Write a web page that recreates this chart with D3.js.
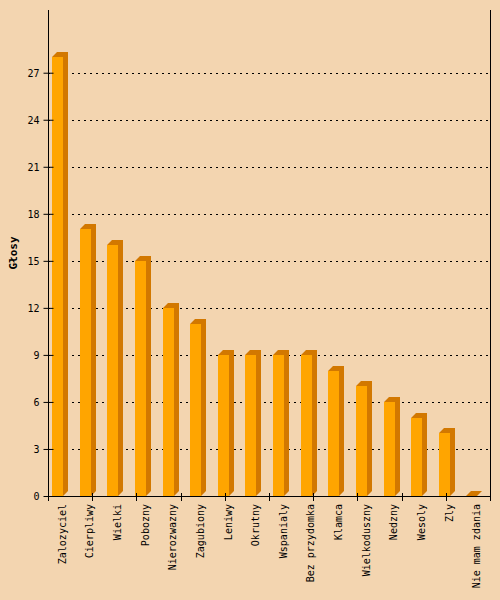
<!DOCTYPE html>
<meta charset="utf-8">
<script src="https://d3js.org/d3.v7.min.js"></script>
<style>
  body { margin: 0; background: #f3d5b0; }
</style>
<div id="chart"></div>
<script>

// data
var names = ["Zalozyciel", "Cierpliwy", "Wielki", "Pobozny", "Nierozwazny", "Zagubiony",
             "Leniwy", "Okrutny", "Wspanialy", "Bez przydomka", "Klamca", "Wielkoduszny",
             "Nedzny", "Wesoly", "Zly", "Nie mam zdania"];
var votes = [28, 17, 16, 15, 12, 11, 9, 9, 9, 9, 8, 7, 6, 5, 4, 0];
var yTicks = [0, 3, 6, 9, 12, 15, 18, 21, 24, 27];
var yTitle = "Głosy";

var data = names.map(function(n, i) { return {name: n, value: votes[i]}; });

// layout
var W = 500, H = 600;
var pLeft = 48, pRight = 490, pTop = 10, pBottom = 496;
var depth = 5, barW = 11;

var svg = d3.select("#chart")
  .append("svg")
    .attr("width", W)
    .attr("height", H)
    .style("display", "block");

svg.append("rect")
    .attr("width", W)
    .attr("height", H)
    .attr("fill", "#f3d5b0");

var x = d3.scaleBand()
  .domain(names)
  .range([pLeft, pRight]);

var y = d3.scaleLinear()
  .domain([0, 31])
  .range([pBottom, pTop]);

// grid lines
svg.append("g")
  .selectAll("line")
  .data(yTicks.filter(function(t) { return t > 0; }))
  .enter().append("line")
    .attr("x1", pLeft)
    .attr("x2", pRight)
    .attr("y1", function(d) { return Math.round(y(d)) + 0.5; })
    .attr("y2", function(d) { return Math.round(y(d)) + 0.5; })
    .attr("stroke", "#000")
    .attr("stroke-width", 1)
    .attr("stroke-dasharray", "2,4");

// bars (side+top, then front)
var bars = svg.append("g")
  .selectAll("g")
  .data(data)
  .enter().append("g");

bars.append("path")
    .attr("fill", "#d27800")
    .attr("d", function(d) {
      var x0 = Math.round(x(d.name)) + 4, x1 = x0 + barW, yt = Math.round(y(d.value));
      return "M" + x1 + "," + pBottom +
             "L" + (x1 + depth) + "," + (pBottom - depth) +
             "L" + (x1 + depth) + "," + (yt - depth) +
             "L" + (x0 + depth) + "," + (yt - depth) +
             "L" + x0 + "," + yt +
             "L" + x1 + "," + yt + "Z";
    });

bars.append("rect")
    .attr("x", function(d) { return Math.round(x(d.name)) + 4; })
    .attr("y", function(d) { return Math.round(y(d.value)); })
    .attr("width", barW)
    .attr("height", function(d) { return pBottom - Math.round(y(d.value)); })
    .attr("fill", "#ffa500");

// y axis
var yAxis = svg.append("g")
    .attr("transform", "translate(" + (pLeft + 0.5) + ",0)")
    .call(d3.axisLeft(y).tickValues(yTicks).tickSize(5).tickPadding(4));
yAxis.select(".domain").remove();
yAxis.append("line")
    .attr("y1", pTop)
    .attr("y2", pBottom)
    .attr("stroke", "#000");
yAxis.selectAll(".tick line")
    .attr("x1", 5)
    .attr("x2", -5);
yAxis.selectAll("text")
    .attr("dy", "0.35em")
    .style("font-family", "DejaVu Sans Mono")
    .style("font-size", "10px")
    .attr("fill", "#000");

// right border
svg.append("line")
    .attr("x1", pRight + 0.5)
    .attr("x2", pRight + 0.5)
    .attr("y1", pTop)
    .attr("y2", pBottom)
    .attr("stroke", "#000");

// x axis line + ticks
svg.append("line")
    .attr("x1", pLeft)
    .attr("x2", pRight + 1)
    .attr("y1", pBottom + 0.5)
    .attr("y2", pBottom + 0.5)
    .attr("stroke", "#000");

var xt = d3.scaleLinear().domain([0, 10]).range([pLeft, pRight]);
svg.append("g")
  .selectAll("line")
  .data(d3.range(0, 11))
  .enter().append("line")
    .attr("x1", function(d) { return Math.round(xt(d)) + 0.5; })
    .attr("x2", function(d) { return Math.round(xt(d)) + 0.5; })
    .attr("y1", pBottom - 3)
    .attr("y2", pBottom + 5)
    .attr("stroke", "#000");

// x labels
svg.append("g")
  .selectAll("text")
  .data(names)
  .enter().append("text")
    .attr("transform", function(d) {
      return "translate(" + (x(d) + x.bandwidth() / 2 + 4) + "," + (pBottom + 8) + ") rotate(-90)";
    })
    .attr("text-anchor", "end")
    .style("font-family", "DejaVu Sans Mono")
    .style("font-size", "10px")
    .attr("fill", "#000")
    .text(function(d) { return d; });

// y title
svg.append("text")
    .attr("transform", "translate(17," + ((pTop + pBottom) / 2) + ") rotate(-90)")
    .attr("text-anchor", "middle")
    .style("font-family", "DejaVu Sans Mono")
    .style("font-size", "11px")
    .style("font-weight", "bold")
    .attr("fill", "#000")
    .text(yTitle);

</script>
